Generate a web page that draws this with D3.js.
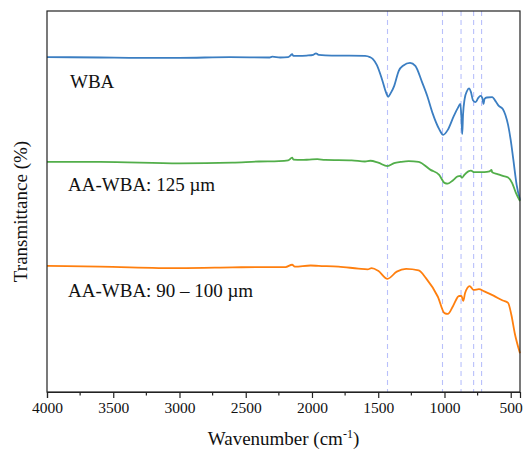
<!DOCTYPE html>
<html>
<head>
<meta charset="utf-8">
<script src="https://cdn.jsdelivr.net/npm/d3@7"></script>
<style>
  body { margin: 0; background: #fff; }
  text { font-family: "Liberation Serif", "Times New Roman", serif; }
</style>
</head>
<body>
<svg width="525" height="453"></svg>
<script>
// wavenumber (cm-1), transmittance (offset, arbitrary %)
const wba = [
  [4000, 87.9], [3600, 87.8], [3300, 87.7], [3000, 87.7], [2620, 87.9], [2320, 87.8],
  [2300, 88.0], [2240, 87.8], [2180, 87.9], [2160, 88.4], [2150, 88.7], [2140, 88.2],
  [2100, 88.2], [2040, 88.3], [1990, 88.5], [1970, 88.9], [1950, 88.5], [1850, 88.3],
  [1720, 88.3], [1600, 88.2], [1563, 87.9], [1540, 87.4], [1510, 85.8], [1470, 81.9],
  [1440, 78.5], [1425, 77.5], [1405, 78.5], [1380, 80.3], [1345, 84.3], [1310, 85.7],
  [1260, 86.4], [1220, 85.6], [1170, 81.4], [1130, 77.7], [1090, 73.2], [1040, 69.0],
  [1010, 67.5], [975, 68.8], [930, 72.4], [900, 74.5], [880, 75.6], [872, 71.9],
  [866, 67.7], [860, 72.7], [848, 76.9], [830, 79.0], [815, 79.7], [800, 78.7],
  [785, 76.6], [765, 76.1], [745, 77.2], [728, 77.7], [715, 77.2], [705, 75.6],
  [698, 76.9], [680, 77.3], [640, 77.4], [610, 76.1], [590, 75.1], [560, 74.3],
  [540, 72.7], [520, 70.1], [500, 66.1], [480, 60.9], [455, 54.3], [430, 50.4]
];
const aa125 = [
  [4000, 60.4], [3600, 60.4], [3000, 60.0], [2600, 60.2], [2400, 60.5], [2250, 60.6],
  [2180, 60.8], [2150, 61.5], [2140, 61.0], [2080, 60.9], [2020, 61.0], [1960, 61.1],
  [1900, 60.9], [1700, 60.8], [1600, 60.5], [1560, 60.7], [1500, 60.2], [1430, 59.3],
  [1380, 60.1], [1330, 60.4], [1270, 60.6], [1195, 60.4], [1105, 58.3], [1040, 57.0],
  [1000, 54.9], [975, 54.7], [935, 55.6], [900, 56.6], [880, 56.7], [868, 56.2],
  [850, 57.0], [820, 57.9], [800, 58.1], [775, 57.7], [740, 57.7], [700, 57.7],
  [660, 57.9], [645, 58.3], [640, 57.7], [600, 57.2], [560, 56.7], [520, 56.3],
  [490, 54.9], [460, 52.2], [430, 50.1]
];
const aa90 = [
  [4000, 33.1], [3600, 32.9], [3000, 32.5], [2600, 32.7], [2400, 32.8], [2200, 32.8],
  [2150, 33.4], [2130, 32.9], [2010, 33.2], [1950, 33.1], [1800, 32.9], [1650, 32.4],
  [1580, 32.2], [1550, 32.5], [1500, 31.8], [1430, 29.7], [1360, 31.6], [1290, 32.3],
  [1195, 31.9], [1140, 29.9], [1050, 25.0], [1000, 20.7], [975, 20.5], [935, 22.6],
  [890, 25.2], [872, 25.2], [858, 23.9], [845, 25.9], [810, 27.8], [780, 26.8],
  [740, 27.0], [700, 26.4], [630, 25.3], [560, 24.0], [520, 23.4], [495, 20.2],
  [470, 15.5], [430, 10.2]
];
const seriesNames = ["WBA", "AA-WBA: 125 \u00b5m", "AA-WBA: 90 \u2013 100 \u00b5m"];
const seriesColors = ["#3b7ec2", "#52ae4a", "#ff7f0e"];
const bandLines = [1430, 1015, 875, 780, 720];
const xTicks = [4000, 3500, 3000, 2500, 2000, 1500, 1000, 500];
const xMinorTicks = [3750, 3250, 2750, 2250, 1750, 1250, 750];

const svg = d3.select("svg");
const plotLeft = 47, plotRight = 520, plotTop = 11, plotBottom = 392;

const x = d3.scaleLinear().domain([4000, 430]).range([plotLeft, plotRight]);
const y = d3.scaleLinear().domain([0, 100]).range([plotBottom, plotTop]);

// dashed band markers
svg.append("g")
  .selectAll("line")
  .data(bandLines)
  .join("line")
  .attr("x1", (d) => x(d))
  .attr("x2", (d) => x(d))
  .attr("y1", plotTop)
  .attr("y2", plotBottom)
  .attr("stroke", "#b9c0fb")
  .attr("stroke-width", 1.1)
  .attr("stroke-dasharray", "5,4");

const line = d3.line()
  .x((d) => x(d[0]))
  .y((d) => y(d[1]))
  .curve(d3.curveMonotoneX);

[wba, aa125, aa90].forEach((data, i) => {
  svg.append("path")
    .datum(data)
    .attr("fill", "none")
    .attr("stroke", seriesColors[i])
    .attr("stroke-width", 1.8)
    .attr("stroke-linejoin", "round")
    .attr("d", line);
});

// series labels
const labelPos = [[70, 88], [68, 191], [68, 297]];
seriesNames.forEach((name, i) => {
  svg.append("text")
    .attr("x", labelPos[i][0])
    .attr("y", labelPos[i][1])
    .attr("font-size", 19)
    .attr("fill", "#111")
    .text(name);
});

// frame
svg.append("rect")
  .attr("x", plotLeft)
  .attr("y", plotTop)
  .attr("width", plotRight - plotLeft)
  .attr("height", plotBottom - plotTop)
  .attr("fill", "none")
  .attr("stroke", "#222")
  .attr("stroke-width", 1.2);

// x axis
const xAxis = svg.append("g")
  .attr("transform", `translate(0,${plotBottom})`)
  .call(d3.axisBottom(x).tickValues(xTicks).tickSize(6).tickPadding(4).tickFormat(d3.format("d")));
xAxis.select(".domain").attr("stroke", "#222").attr("stroke-width", 1.2);
xAxis.selectAll(".tick line").attr("stroke", "#222").attr("stroke-width", 1.2);
xAxis.selectAll(".tick text")
  .attr("font-family", "Liberation Serif, Times New Roman, serif")
  .attr("font-size", 15.5)
  .attr("fill", "#111");

svg.append("g")
  .attr("transform", `translate(0,${plotBottom})`)
  .selectAll("line")
  .data(xMinorTicks)
  .join("line")
  .attr("x1", (d) => x(d))
  .attr("x2", (d) => x(d))
  .attr("y1", 0)
  .attr("y2", 3.5)
  .attr("stroke", "#222")
  .attr("stroke-width", 1.2);

// axis titles
const xTitle = svg.append("text")
  .attr("x", (plotLeft + plotRight) / 2)
  .attr("y", 445)
  .attr("text-anchor", "middle")
  .attr("font-size", 19)
  .attr("fill", "#111");
xTitle.append("tspan").text("Wavenumber (cm");
xTitle.append("tspan").attr("font-size", 12).attr("dy", -7).text("-1");
xTitle.append("tspan").attr("dy", 7).text(")");

svg.append("text")
  .attr("transform", `translate(27,${(plotTop + plotBottom) / 2 + 10}) rotate(-90)`)
  .attr("text-anchor", "middle")
  .attr("font-size", 19)
  .attr("fill", "#111")
  .text("Transmittance (%)");
</script>
</body>
</html>
